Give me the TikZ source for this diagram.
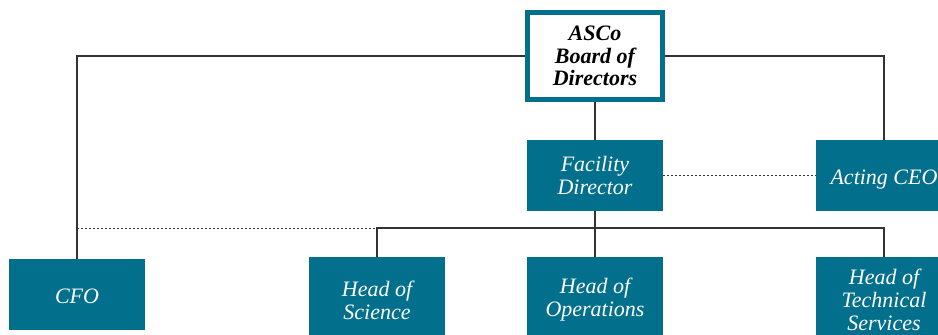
\documentclass[tikz,border=0pt]{standalone}
\usepackage{fontspec}
\setmainfont{Liberation Serif}
\usetikzlibrary{calc}
\definecolor{teal1}{HTML}{02708C}
\definecolor{linec}{HTML}{333333}
\tikzset{
  box/.style={fill=teal1, text=white, draw=none, minimum width=136pt, minimum height=71pt,
    align=center, inner sep=2pt, font=\fontsize{22}{23}\selectfont\itshape},
  tallbox/.style={box, minimum height=86pt},
  boardbox/.style={draw=teal1, line width=5pt, fill=white, text=black, minimum width=135pt,
    minimum height=87pt, align=center, font=\fontsize{22}{22.5}\selectfont\bfseries\itshape},
  conn/.style={draw=linec, line width=1.2pt},
  dotconn/.style={draw=linec, line width=1pt, dash pattern=on 2pt off 2pt},
}
\begin{document}
\begin{tikzpicture}[x=1pt,y=-1pt]
\useasboundingbox (0,0) rectangle (938,335);
\node[boardbox] (board) at (595,56) {ASCo\\Board of\\Directors};
\node[box] (fd) at (595,175.5) {Facility\\Director};
\node[box, text height=23pt] (ceo) at (884,175.5) {Acting CEO};
\node[box, text height=19pt] (cfo) at (77,294.5) {CFO};
\node[tallbox] (sci) at (377,300) {Head of\\Science};
\node[tallbox] (ops) at (595,300) {Head of\\Operations};
\node[tallbox] (tech) at (884,300) {Head of\\Technical\\Services};
\coordinate (j) at (fd.south |- 0,228);
\draw[conn] (board.west) -| (cfo.north);
\draw[conn] (board.east) -| (ceo.north);
\draw[conn] (board.south) -- (fd.north);
\draw[conn] (fd.south) -- (j);
\draw[conn] (sci.north) |- (j) -| (tech.north);
\draw[conn] (j) -- (ops.north);
\draw[dotconn] (fd.east) -- (ceo.west);
\draw[dotconn] (cfo.north |- j) -- (sci.north |- j);
\end{tikzpicture}
\end{document}
